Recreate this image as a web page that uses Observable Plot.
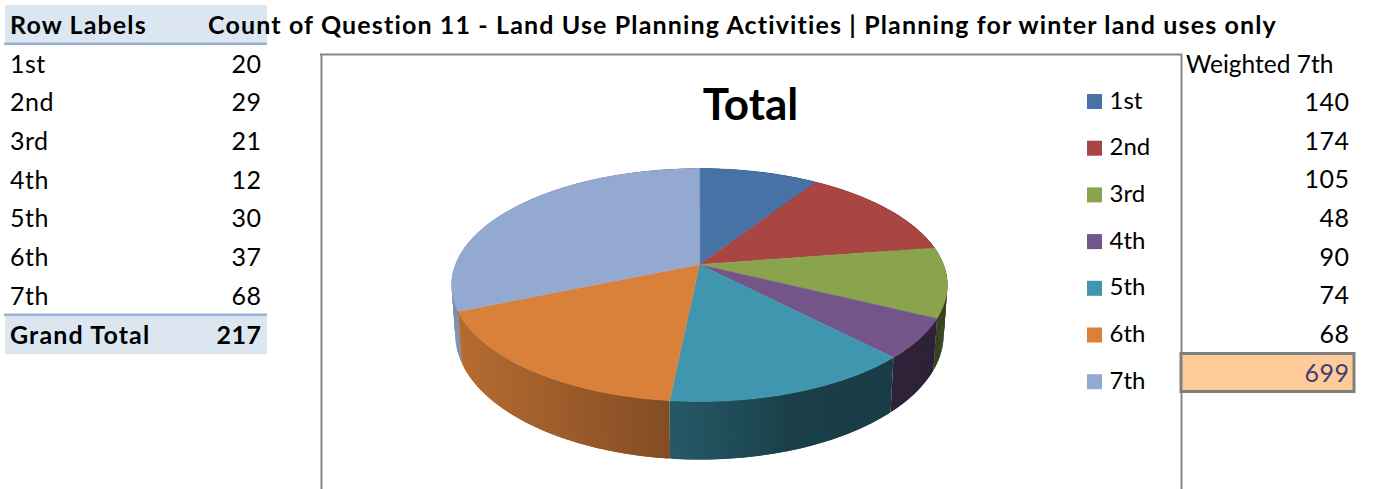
<!DOCTYPE html>
<html><head><meta charset="utf-8">
<script src="https://cdn.jsdelivr.net/npm/d3@7"></script>
<script src="https://cdn.jsdelivr.net/npm/@observablehq/plot@0.6"></script>
<style>html,body{margin:0;padding:0;background:#fff;overflow:hidden}svg{display:block}
.boldspaced{letter-spacing:1.14px}.spaced{letter-spacing:.5px}</style>
</head><body><div id="chart"></div>
<script>
const categories = ["1st","2nd","3rd","4th","5th","6th","7th"];
const counts = [20,29,21,12,30,37,68];
const weighted = [140,174,105,48,90,74,68];
const grandTotal = 217;
const weightedTotal = 699;
const colors = ["#4672a6","#a94543","#89a44d","#73558a","#3f96ae","#d9803b","#93a9cf"];
const heading = "Count of Question 11 - Land Use Planning Activities | Planning for winter land uses only";

const FONT = "Lato, Carlito, sans-serif";
const W = 1374, H = 489;

// perspective pie
const cx = 699, cy = 264, fx = 244, gy = 112.9, k = 0.176, depth = 47.8, squeeze = 0.985;
const project = (a, low = false) => {
  const X = Math.sin(a), Z = -Math.cos(a), den = 1 - k * Z;
  const px = fx * X / den;
  return low ? {x: cx + px * squeeze, y: cy + gy * Z / den + depth / den, Z}
             : {x: cx + px, y: cy + gy * Z / den, Z};
};
const arcs = d3.pie().sort(null).value(d => d)(counts);
const shade = d3.scaleLinear().domain([450, 670, 790, 950]).range([0.85, 0.6, 0.42, 0.4]).clamp(true);
const darken = (c, s) => { const r = d3.rgb(c); return d3.rgb(r.r * s, r.g * s, r.b * s).formatHex(); };

const facets = [];
arcs.forEach((arc, i) => {
  const n = Math.max(2, Math.ceil((arc.endAngle - arc.startAngle) / 0.012));
  const step = (arc.endAngle - arc.startAngle) / n;
  for (let j = 0; j < n; j++) {
    const a0 = arc.startAngle + step * j;
    const a1 = a0 + step;
    const m = project((a0 + a1) / 2);
    // each facet overlaps its neighbours a little so no seams appear
    facets.push({a0: Math.max(arc.startAngle, a0 - step / 2), a1: Math.min(arc.endAngle, a1 + step / 2), Z: m.Z, fill: darken(colors[i], shade(m.x))});
  }
});
facets.sort((p, q) => p.Z - q.Z);
const sideRows = facets.flatMap((f, id) => [
  project(f.a0), project(f.a1), project(f.a1, true), project(f.a0, true)
].map(p => ({...p, id, fill: f.fill})));

const topRows = arcs.flatMap((arc, i) => {
  const n = Math.ceil((arc.endAngle - arc.startAngle) / 0.01);
  const pts = [{x: cx, y: cy}];
  for (let j = 0; j <= n; j++) pts.push(project(arc.startAngle + (arc.endAngle - arc.startAngle) * j / n));
  return pts.map(p => ({...p, id: i, fill: colors[i]}));
});

// layout
const rowY = i => 64 + i * 38.7;
const labelRows = categories.map((c, i) => ({c, n: counts[i], w: weighted[i], i}));
const text = (data, opts) => Plot.text(data, {fontFamily: FONT, lineAnchor: "middle", fill: "#000", ...opts});
const box = (x1, x2, y1, y2, fill, extra = {}) => Plot.rect([0], {x1, x2, y1, y2, fill, ...extra});

const plot = Plot.plot({
  width: W, height: H, margin: 0,
  x: {domain: [0, W], range: [0, W], axis: null},
  y: {domain: [0, H], range: [0, H], axis: null},
  color: {type: "identity"},
  style: {background: "#fff", fontFamily: FONT},
  marks: [
    box(5, 267, 5, 43, "#dce6f1"),
    box(4, 267, 42.5, 45, "#95b3d7"),
    box(5, 267, 316, 354, "#dce6f1"),
    box(4, 267, 313.5, 316, "#95b3d7"),
    text(["Row Labels"], {x: 9.5, y: 25, text: d => d, fontSize: 25, fontWeight: 700, textAnchor: "start", className: "boldspaced"}),
    text([heading], {x: 207.5, y: 25, text: d => d, fontSize: 25, fontWeight: 700, textAnchor: "start", className: "boldspaced"}),
    text(labelRows, {x: 9.5, y: d => rowY(d.i), text: "c", fontSize: 25, textAnchor: "start", className: "spaced"}),
    text(labelRows, {x: 261, y: d => rowY(d.i), text: "n", fontSize: 25, textAnchor: "end", className: "spaced"}),
    text(["Grand Total"], {x: 9.5, y: 335, text: d => d, fontSize: 25, fontWeight: 700, textAnchor: "start", className: "boldspaced"}),
    text([grandTotal], {x: 261, y: 335, text: d => d, fontSize: 25, fontWeight: 700, textAnchor: "end", className: "spaced"}),

    Plot.ruleX([321, 1181], {y1: 54, y2: H, stroke: "#868686", strokeWidth: 2}),
    Plot.ruleY([54], {x1: 320, x2: 1182, stroke: "#868686", strokeWidth: 2}),
    text(["Total"], {x: 750, y: 105, text: d => d, fontSize: 44, fontWeight: 700, textAnchor: "middle"}),

    Plot.line(sideRows, {x: "x", y: "y", z: "id", fill: "fill", stroke: "none", curve: "linear-closed"}),
    Plot.line(topRows, {x: "x", y: "y", z: "id", fill: "fill", stroke: "fill", strokeWidth: 0.4, curve: "linear-closed"}),

    Plot.rect(labelRows, {x1: 1087, x2: 1102, y1: d => 94 + d.i * 46.7, y2: d => 109 + d.i * 46.7, fill: d => colors[d.i]}),
    text(labelRows, {x: 1109, y: d => 100.5 + d.i * 46.7, text: "c", fontSize: 24, textAnchor: "start"}),

    text(["Weighted 7th"], {x: 1185.5, y: 65, text: d => d, fontSize: 24.5, textAnchor: "start"}),
    text(labelRows, {x: 1349, y: d => rowY(d.i) + 38.4, text: "w", fontSize: 25, textAnchor: "end", className: "spaced"}),
    Plot.rect([0], {x1: 1181, x2: 1354, y1: 353.5, y2: 391.5, fill: "#ffcc99", stroke: "#7f7f7f", strokeWidth: 3}),
    text([weightedTotal], {x: 1349, y: 373.5, text: d => d, fontSize: 25, fill: "#3f3f76", textAnchor: "end", className: "spaced"})
  ]
});
document.getElementById("chart").append(plot);
</script></body></html>
